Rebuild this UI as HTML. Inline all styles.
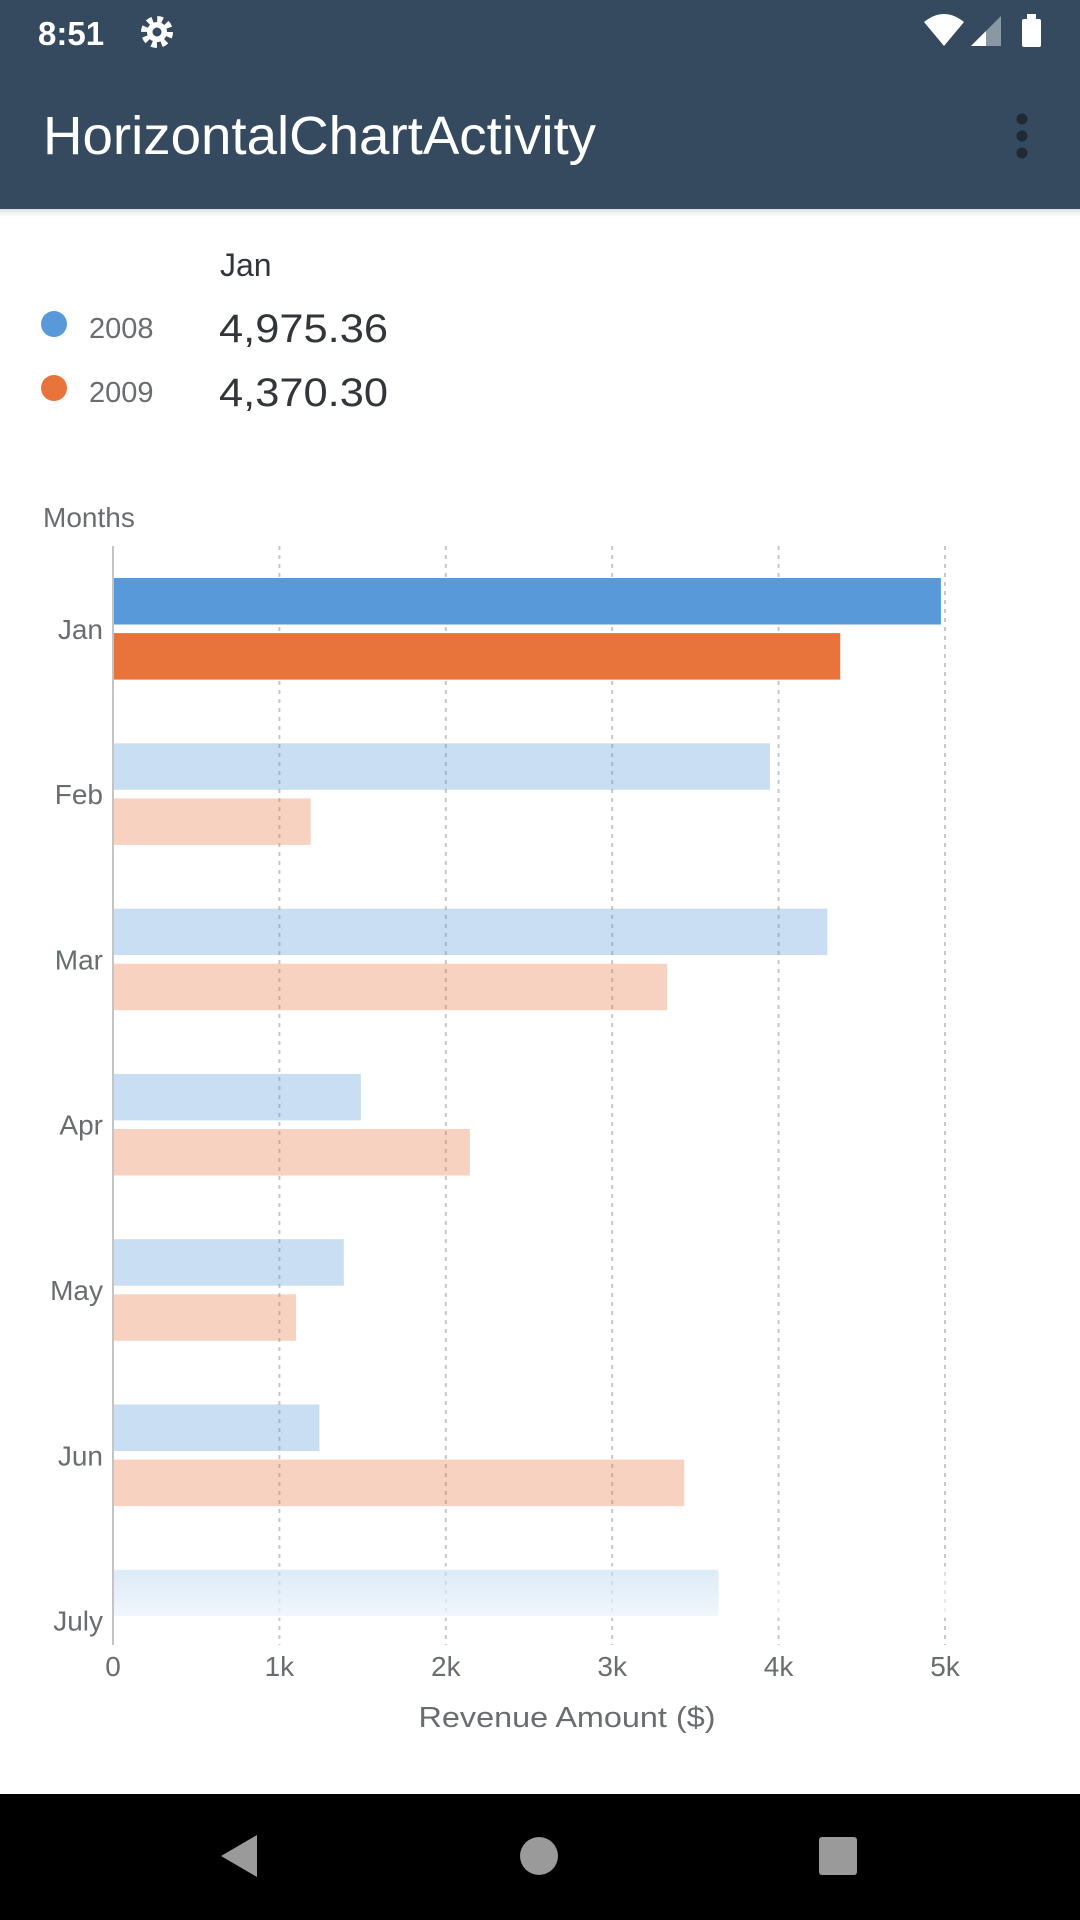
<!DOCTYPE html>
<html><head><meta charset="utf-8"><style>
html,body{margin:0;padding:0;background:#fff;}
svg{display:block;font-family:"Liberation Sans",sans-serif;}
</style></head><body>
<svg id="page" width="1080" height="1920" viewBox="0 0 1080 1920">
<defs>
<linearGradient id="shadow" x1="0" y1="0" x2="0" y2="1"><stop offset="0" stop-color="#000" stop-opacity="0.12"/><stop offset="1" stop-color="#000" stop-opacity="0"/></linearGradient>
<linearGradient id="fade" x1="0" y1="0" x2="0" y2="1"><stop offset="0" stop-color="#fff" stop-opacity="0.35"/><stop offset="1" stop-color="#fff" stop-opacity="0.75"/></linearGradient>
<clipPath id="plotclip"><rect x="0" y="546" width="1080" height="1070"/></clipPath>
</defs>
<rect x="0" y="0" width="1080" height="209" fill="#354a5f"/>
<rect x="0" y="209" width="1080" height="8" fill="url(#shadow)"/>
<text x="38" y="45" font-size="33" font-weight="bold" fill="#fff">8:51</text>
<g transform="translate(157,32)">
<circle r="12" fill="none" stroke="#fff" stroke-width="8" stroke-dasharray="5 4.4"/>
<circle r="10" fill="#fff"/><circle r="4.5" fill="#354a5f"/>
</g>
<path d="M924 22 Q944 6 964 22 L944 46 Z" fill="#fff"/>
<path d="M971 46 L1001 16 L1001 46 Z" fill="#8a97a4"/>
<path d="M971 46 L986 31 L986 46 Z" fill="#fff"/>
<rect x="1022" y="19" width="19" height="28" rx="2" fill="#fff"/>
<rect x="1027" y="14" width="9" height="6" fill="#fff"/>
<text x="43" y="154" font-size="54" fill="#fff" textLength="553" lengthAdjust="spacingAndGlyphs">HorizontalChartActivity</text>
<g fill="#1f2a36">
<circle cx="1022" cy="119" r="5.5"/><circle cx="1022" cy="136" r="5.5"/><circle cx="1022" cy="153" r="5.5"/>
</g>
<text x="220" y="276" font-size="32" fill="#32363a">Jan</text>
<g>
<circle cx="54" cy="324" r="13" fill="#5899da"/>
<text x="89" y="338" font-size="29" fill="#6a6d70">2008</text>
<text x="219" y="342" font-size="40" fill="#32363a" textLength="169" lengthAdjust="spacingAndGlyphs">4,975.36</text>
</g>
<g>
<circle cx="54" cy="388" r="13" fill="#e8743b"/>
<text x="89" y="402" font-size="29" fill="#6a6d70">2009</text>
<text x="219" y="406" font-size="40" fill="#32363a" textLength="169" lengthAdjust="spacingAndGlyphs">4,370.30</text>
</g>
<text x="43" y="527" font-size="28" fill="#6a6d70">Months</text>
<g id="grid"></g>
<g id="bars" clip-path="url(#plotclip)"></g>
<rect x="113" y="1566" width="900" height="52" fill="url(#fade)"/>
<line x1="113" y1="546" x2="113" y2="1645" stroke="#c4c4c4" stroke-width="2"/>
<g id="ylabels"></g>
<g id="xlabels"></g>
<text x="567" y="1727" font-size="29" fill="#6a6d70" text-anchor="middle" textLength="297" lengthAdjust="spacingAndGlyphs">Revenue Amount ($)</text>
<rect x="0" y="1794" width="1080" height="126" fill="#000"/>
<path d="M221 1856 L257 1835 L257 1877 Z" fill="#9a9a9a"/>
<circle cx="539" cy="1856" r="19" fill="#9a9a9a"/>
<rect x="819" y="1837" width="38" height="38" rx="3" fill="#9a9a9a"/>
</svg>
<script>
const categories = ["Jan","Feb","Mar","Apr","May","Jun","July"];
const values2008 = [4975.36, 3948, 4293, 1490, 1387, 1240, 3639];
const values2009 = [4370.30, 1188, 3330, 2145, 1100, 3433, 2500];
const xTicks = [0, 1000, 2000, 3000, 4000, 5000];
const xTickLabels = ["0","1k","2k","3k","4k","5k"];
const selectedIndex = 0;

const NS = "http://www.w3.org/2000/svg";
const X0 = 113, PXPER = 166.4/1000;
const BAND = 165.3, FIRST = 628.8, BARH = 46.5, GAP = 8.6;
function xs(v){ return X0 + v*PXPER; }
function ys(i){ return FIRST + i*BAND; }
function mk(tag, attrs, parent){ const e=document.createElementNS(NS,tag); for(const k in attrs) e.setAttribute(k,attrs[k]); parent.appendChild(e); return e; }

const grid = document.getElementById('grid');
const xl = document.getElementById('xlabels');
xTicks.forEach((t,i)=>{
  if(t>0){
    const g = mk('line',{x1:xs(t),x2:xs(t),y1:546,y2:1645,stroke:'#c8c8c8','stroke-width':2,'stroke-dasharray':'4 5'},grid);
    
    
  }
  const tx = mk('text',{x:xs(t),y:1676,'font-size':28,fill:'#6a6d70','text-anchor':'middle'},xl);
  tx.textContent = xTickLabels[i];
  
  
});

const bars = document.getElementById('bars');
const yl = document.getElementById('ylabels');
categories.forEach((c,i)=>{
  const cy = ys(i);
  const op = i===selectedIndex ? 1 : 0.32;
  const b1 = mk('rect',{x:X0+1,y:cy-GAP/2-BARH,width:xs(values2008[i])-X0-1,height:BARH,fill:'#5899da','fill-opacity':op},bars);
  
  
  const b2 = mk('rect',{x:X0+1,y:cy+GAP/2,width:xs(values2009[i])-X0-1,height:BARH,fill:'#e8743b','fill-opacity':op},bars);
  
  
  const t = mk('text',{x:103,y:cy+10,'font-size':28,fill:'#6a6d70','text-anchor':'end'},yl);
  t.textContent = c;
  
  
});
</script>
</body></html>
